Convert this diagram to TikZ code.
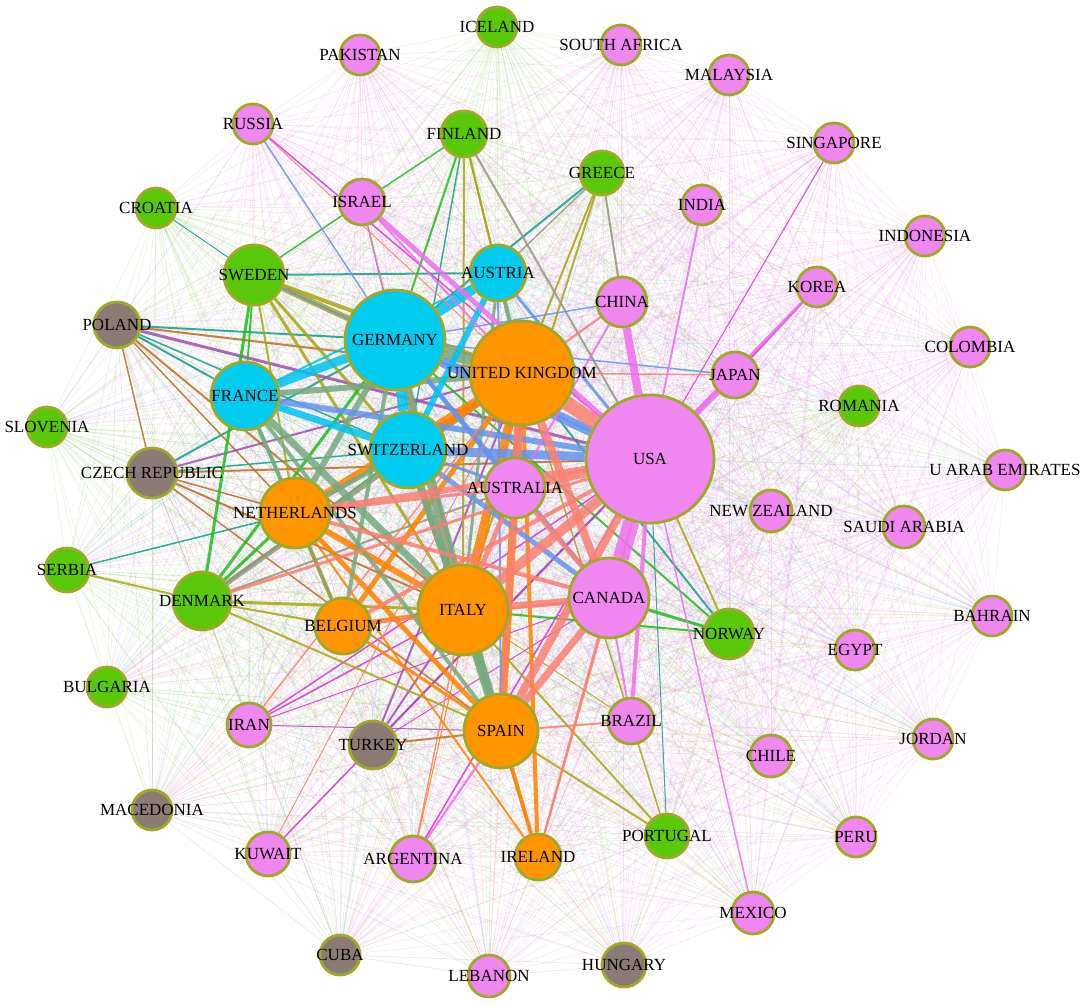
\documentclass[tikz,border=0pt]{standalone}
\usepackage{fontspec}
\setmainfont{Liberation Serif}
\usepackage{tikz}
\pgfdeclarelayer{links}
\pgfsetlayers{links,main}
\definecolor{rimcol}{RGB}{160,168,40}
\definecolor{pinkfill}{RGB}{240,134,240}
\definecolor{greenfill}{RGB}{88,200,8}
\definecolor{bluefill}{RGB}{0,204,240}
\definecolor{orangefill}{RGB}{255,150,0}
\definecolor{brownfill}{RGB}{140,122,116}
\definecolor{faintP}{RGB}{230,120,230}
\definecolor{faintG}{RGB}{120,200,60}
\definecolor{faintB}{RGB}{60,170,230}
\definecolor{faintO}{RGB}{240,150,60}
\definecolor{faintN}{RGB}{140,120,110}
\definecolor{salmoncol}{RGB}{250,128,114}
\definecolor{violetcol}{RGB}{238,112,238}
\definecolor{magentacol}{RGB}{220,50,220}
\definecolor{cornflowercol}{RGB}{100,149,237}
\definecolor{cyancol}{RGB}{0,196,240}
\definecolor{seacol}{RGB}{118,170,128}
\definecolor{orangecol}{RGB}{255,130,0}
\definecolor{greencol}{RGB}{30,190,30}
\definecolor{olivecol}{RGB}{170,165,20}
\definecolor{tealcol}{RGB}{20,160,140}
\definecolor{graycol}{RGB}{150,150,128}
\definecolor{browncol}{RGB}{190,110,40}
\definecolor{purplecol}{RGB}{160,80,180}
\newcommand{\ctryfont}{\fontsize{17bp}{20bp}\selectfont}
\newcommand{\countrylist}{iceland/G,pakistan/P,southafrica/P,malaysia/P,russia/P,finland/G,singapore/P,greece/G,israel/P,india/P,croatia/G,indonesia/P,sweden/G,austria/B,korea/P,china/P,poland/N,germany/B,colombia/P,uk/O,japan/P,france/B,romania/G,slovenia/G,switzerland/B,usa/P,uae/P,czech/N,australia/P,netherlands/O,newzealand/P,saudiarabia/P,serbia/G,denmark/G,canada/P,belgium/O,italy/O,bahrain/P,norway/G,egypt/P,bulgaria/G,brazil/P,iran/P,spain/O,turkey/N,jordan/P,chile/P,macedonia/N,portugal/G,peru/P,kuwait/P,ireland/O,argentina/P,mexico/P,cuba/N,hungary/N,lebanon/P}

\begin{document}
\begin{tikzpicture}[line cap=round,
  country/.style={circle,draw=rimcol,line width=2.8bp,inner sep=0pt,minimum size=#1bp},
  every label/.append style={font=\ctryfont,text=black,inner sep=0pt},
  faint/.style={draw=faint#1,line width=0.45bp,opacity=0.22},
  tie/.style={draw=#1,opacity=0.85}]
\useasboundingbox (0bp,0bp) rectangle (1084bp,1006bp);
%%
  \node (iceland) at (497bp,979bp) [country=40,fill=greenfill,label={center:ICELAND}] {};
  \node (pakistan) at (360bp,951bp) [country=40,fill=pinkfill,label={center:PAKISTAN}] {};
  \node (southafrica) at (621bp,961bp) [country=40,fill=pinkfill,label={center:SOUTH AFRICA}] {};
  \node (malaysia) at (729bp,931bp) [country=40,fill=pinkfill,label={center:MALAYSIA}] {};
  \node (russia) at (253bp,882bp) [country=40,fill=pinkfill,label={center:RUSSIA}] {};
  \node (finland) at (464bp,872bp) [country=46,fill=greenfill,label={center:FINLAND}] {};
  \node (singapore) at (834bp,863bp) [country=40,fill=pinkfill,label={center:SINGAPORE}] {};
  \node (greece) at (602bp,833bp) [country=44,fill=greenfill,label={center:GREECE}] {};
  \node (israel) at (362bp,804bp) [country=46,fill=pinkfill,label={center:ISRAEL}] {};
  \node (india) at (702bp,801bp) [country=40,fill=pinkfill,label={center:INDIA}] {};
  \node (croatia) at (156bp,798bp) [country=40,fill=greenfill,label={center:CROATIA}] {};
  \node (indonesia) at (925bp,770bp) [country=40,fill=pinkfill,label={center:INDONESIA}] {};
  \node (sweden) at (254bp,731bp) [country=60,fill=greenfill,label={center:SWEDEN}] {};
  \node (austria) at (498bp,733bp) [country=56,fill=bluefill,label={center:AUSTRIA}] {};
  \node (korea) at (817bp,719bp) [country=40,fill=pinkfill,label={center:KOREA}] {};
  \node (china) at (622bp,704bp) [country=50,fill=pinkfill,label={center:CHINA}] {};
  \node (poland) at (117bp,681bp) [country=46,fill=brownfill,label={center:POLAND}] {};
  \node (germany) at (395bp,666bp) [country=100,fill=bluefill,label={center:GERMANY}] {};
  \node (colombia) at (970bp,659bp) [country=40,fill=pinkfill,label={center:COLOMBIA}] {};
  \node (uk) at (522bp,633bp) [country=104,fill=orangefill,label={center:UNITED KINGDOM}] {};
  \node (japan) at (735bp,631bp) [country=46,fill=pinkfill,label={center:JAPAN}] {};
  \node (france) at (245bp,610bp) [country=68,fill=bluefill,label={center:FRANCE}] {};
  \node (romania) at (859bp,600bp) [country=40,fill=greenfill,label={center:ROMANIA}] {};
  \node (slovenia) at (47bp,579bp) [country=40,fill=greenfill,label={center:SLOVENIA}] {};
  \node (switzerland) at (408bp,556bp) [country=76,fill=bluefill,label={center:SWITZERLAND}] {};
  \node (usa) at (650bp,547bp) [country=128,fill=pinkfill,label={center:USA}] {};
  \node (uae) at (1005bp,536bp) [country=40,fill=pinkfill,label={center:U ARAB EMIRATES}] {};
  \node (czech) at (152bp,533bp) [country=50,fill=brownfill,label={center:CZECH REPUBLIC}] {};
  \node (australia) at (515bp,518bp) [country=60,fill=pinkfill,label={center:AUSTRALIA}] {};
  \node (netherlands) at (295bp,493bp) [country=70,fill=orangefill,label={center:NETHERLANDS}] {};
  \node (newzealand) at (771bp,495bp) [country=42,fill=pinkfill,label={center:NEW ZEALAND}] {};
  \node (saudiarabia) at (904bp,479bp) [country=42,fill=pinkfill,label={center:SAUDI ARABIA}] {};
  \node (serbia) at (67bp,436bp) [country=44,fill=greenfill,label={center:SERBIA}] {};
  \node (denmark) at (202bp,405bp) [country=58,fill=greenfill,label={center:DENMARK}] {};
  \node (canada) at (609bp,408bp) [country=80,fill=pinkfill,label={center:CANADA}] {};
  \node (belgium) at (343bp,380bp) [country=56,fill=orangefill,label={center:BELGIUM}] {};
  \node (italy) at (463bp,396bp) [country=90,fill=orangefill,label={center:ITALY}] {};
  \node (bahrain) at (992bp,390bp) [country=40,fill=pinkfill,label={center:BAHRAIN}] {};
  \node (norway) at (729bp,372bp) [country=50,fill=greenfill,label={center:NORWAY}] {};
  \node (egypt) at (855bp,356bp) [country=40,fill=pinkfill,label={center:EGYPT}] {};
  \node (bulgaria) at (107bp,319bp) [country=40,fill=greenfill,label={center:BULGARIA}] {};
  \node (brazil) at (631bp,285bp) [country=46,fill=pinkfill,label={center:BRAZIL}] {};
  \node (iran) at (249bp,281bp) [country=44,fill=pinkfill,label={center:IRAN}] {};
  \node (spain) at (501bp,275bp) [country=74,fill=orangefill,label={center:SPAIN}] {};
  \node (turkey) at (373bp,261bp) [country=48,fill=brownfill,label={center:TURKEY}] {};
  \node (jordan) at (933bp,267bp) [country=40,fill=pinkfill,label={center:JORDAN}] {};
  \node (chile) at (771bp,250bp) [country=42,fill=pinkfill,label={center:CHILE}] {};
  \node (macedonia) at (152bp,196bp) [country=40,fill=brownfill,label={center:MACEDONIA}] {};
  \node (portugal) at (667bp,170bp) [country=44,fill=greenfill,label={center:PORTUGAL}] {};
  \node (peru) at (856bp,169bp) [country=40,fill=pinkfill,label={center:PERU}] {};
  \node (kuwait) at (268bp,152bp) [country=44,fill=pinkfill,label={center:KUWAIT}] {};
  \node (ireland) at (538bp,149bp) [country=46,fill=orangefill,label={center:IRELAND}] {};
  \node (argentina) at (413bp,147bp) [country=46,fill=pinkfill,label={center:ARGENTINA}] {};
  \node (mexico) at (753bp,93bp) [country=42,fill=pinkfill,label={center:MEXICO}] {};
  \node (cuba) at (340bp,51bp) [country=40,fill=brownfill,label={center:CUBA}] {};
  \node (hungary) at (624bp,41bp) [country=44,fill=brownfill,label={center:HUNGARY}] {};
  \node (lebanon) at (489bp,30bp) [country=42,fill=pinkfill,label={center:LEBANON}] {};
%
\begin{pgfonlayer}{links}
  \fill[white] (0bp,0bp) rectangle (1084bp,1006bp);
  \foreach \a/\ca [count=\i] in \countrylist {
    \foreach \b/\cb [count=\j] in \countrylist {
      \ifnum\j>\i\relax \draw[faint=\ca] (\a) -- (\b); \fi
    }
  }
  \foreach \a/\b/\w in {iran/usa/1.5,iran/italy/1.5,iran/canada/1,russia/usa/1.5,kuwait/usa/1.5,singapore/usa/1,argentina/usa/1.5,turkey/canada/1,korea/japan/2}
    \draw[tie=magentacol,line width=\w bp] (\a) -- (\b);
  \foreach \a/\b/\w in {sweden/austria/2,greece/germany/2,poland/germany/2,poland/france/2,czech/germany/2,czech/switzerland/1.5,norway/uk/2,serbia/netherlands/1.5,portugal/usa/1,finland/switzerland/1.5,poland/switzerland/1.5,croatia/sweden/1}
    \draw[tie=tealcol,line width=\w bp] (\a) -- (\b);
  \foreach \a/\b/\w in {poland/uk/2,poland/italy/2,czech/italy/2,czech/usa/2,czech/netherlands/1.5,turkey/spain/2,poland/netherlands/1.5,czech/spain/1.5,poland/czech/1.5}
    \draw[tie=browncol,line width=\w bp] (\a) -- (\b);
  \foreach \a/\b/\w in {poland/usa/3,czech/uk/2,turkey/italy/2,turkey/usa/2,turkey/uk/2,iran/spain/1}
    \draw[tie=purplecol,line width=\w bp] (\a) -- (\b);
  \foreach \a/\b/\w in {sweden/germany/6,sweden/uk/4,sweden/italy/3,sweden/switzerland/3,finland/uk/2,finland/italy/2,greece/uk/2,greece/italy/2,denmark/italy/3,denmark/spain/2,serbia/denmark/2,norway/usa/2,portugal/spain/2,portugal/italy/2,portugal/uk/1.5,brazil/italy/1,sweden/netherlands/2,finland/austria/2,denmark/belgium/2}
    \draw[tie=olivecol,line width=\w bp] (\a) -- (\b);
  \foreach \a/\b/\w in {sweden/denmark/3,germany/denmark/3,denmark/netherlands/3,finland/germany/2,norway/canada/3,norway/italy/2,norway/germany/2,denmark/switzerland/2,israel/sweden/1.5,finland/israel/1.5,sweden/france/2}
    \draw[tie=greencol,line width=\w bp] (\a) -- (\b);
  \foreach \a/\b/\w in {uk/denmark/5,greece/china/2,finland/usa/2,greece/austria/1.5,denmark/australia/2}
    \draw[tie=graycol,line width=\w bp] (\a) -- (\b);
  \foreach \a/\b/\w in {uk/italy/9,uk/spain/8,uk/netherlands/8,uk/switzerland/7,uk/belgium/5,uk/ireland/4,italy/netherlands/6,italy/belgium/5,spain/netherlands/5,spain/ireland/4,belgium/netherlands/4,belgium/spain/3,ireland/italy/2,ireland/netherlands/2,argentina/uk/1}
    \draw[tie=orangecol,line width=\w bp] (\a) -- (\b);
  \foreach \a/\b/\w in {uk/germany/12,germany/italy/9,italy/spain/10,switzerland/italy/8,france/italy/7,germany/netherlands/6,germany/spain/5,switzerland/spain/5,switzerland/netherlands/5,france/spain/4,france/netherlands/4,france/belgium/3,germany/belgium/4,austria/italy/3,uk/austria/4,france/uk/6}
    \draw[tie=seacol,line width=\w bp] (\a) -- (\b);
  \foreach \a/\b/\w in {usa/germany/10,usa/switzerland/9,usa/france/6,germany/canada/4,germany/australia/4,switzerland/canada/5,israel/germany/1.5,russia/germany/1.5,china/germany/1.5,japan/germany/1.5,austria/spain/2,usa/sweden/2,switzerland/australia/3,usa/austria/3}
    \draw[tie=cornflowercol,line width=\w bp] (\a) -- (\b);
  \foreach \a/\b/\w in {germany/switzerland/10,germany/austria/10,germany/france/9,switzerland/france/7,switzerland/austria/6,france/austria/2}
    \draw[tie=cyancol,line width=\w bp] (\a) -- (\b);
  \foreach \a/\b/\w in {usa/uk/14,usa/italy/10,usa/spain/8,usa/australia/9,usa/netherlands/6,usa/belgium/4,usa/denmark/3,uk/canada/8,uk/australia/9,italy/canada/7,spain/canada/7,canada/australia/5,canada/netherlands/4,italy/australia/5,spain/australia/5,australia/netherlands/3,ireland/usa/2,ireland/canada/2,belgium/canada/2,brazil/spain/2,argentina/italy/1.5,iran/uk/1.5,kuwait/uk/1,china/uk/2,japan/uk/1.5,russia/uk/1,israel/italy/1}
    \draw[tie=salmoncol,line width=\w bp] (\a) -- (\b);
  \foreach \a/\b/\w in {usa/canada/16,usa/china/8,usa/japan/6,usa/korea/3,usa/israel/5,usa/brazil/4,usa/india/2,usa/mexico/1.5,china/australia/2,israel/uk/2,argentina/spain/2,canada/brazil/2}
    \draw[tie=violetcol,line width=\w bp] (\a) -- (\b);
\end{pgfonlayer}
%
\end{tikzpicture}
\end{document}
